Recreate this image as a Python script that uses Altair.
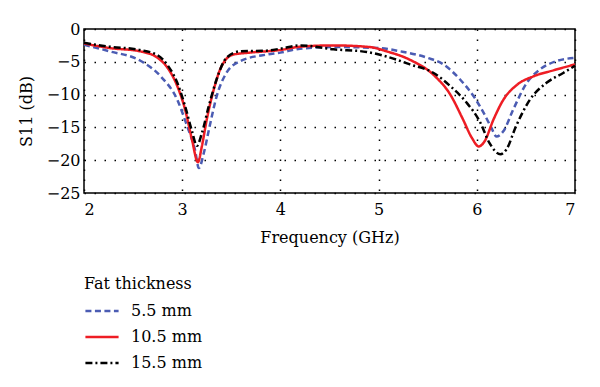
import altair as alt
import pandas as pd

# 5.5 mm (blue dashed)
f_55 = [2.0, 2.26, 2.57, 2.78, 2.95, 3.05, 3.13, 3.17, 3.22, 3.28, 3.35, 3.45, 3.59, 3.86, 4.0, 4.2,
        4.54, 5.0, 5.22, 5.5, 5.66, 5.83, 5.97, 6.07, 6.15, 6.2, 6.27, 6.37, 6.51, 6.64, 6.81, 7.0]
s_55 = [-2.4, -3.4, -4.8, -7.2, -10.8, -14.8, -18.4, -21.2, -18.9, -14.8, -10.3, -6.7, -4.9, -3.9, -3.6, -3.0,
        -2.75, -2.9, -3.4, -4.4, -5.4, -7.7, -10.3, -12.8, -15.1, -16.4, -15.6, -12.3, -8.2, -6.2, -4.9, -4.4]

# 10.5 mm (red solid)
f_105 = [2.0, 2.26, 2.57, 2.75, 2.85, 2.95, 3.03, 3.1, 3.16, 3.2, 3.25, 3.32, 3.4, 3.52, 3.69, 4.0, 4.2,
         4.54, 4.91, 5.08, 5.32, 5.56, 5.73, 5.86, 5.95, 6.02, 6.08, 6.17, 6.27, 6.41, 6.58, 6.78, 7.0]
s_105 = [-2.2, -2.9, -3.4, -4.4, -5.9, -8.7, -12.3, -16.9, -20.3, -17.9, -13.8, -9.3, -5.7, -3.9, -3.6, -3.2, -2.7,
         -2.5, -2.75, -3.4, -4.7, -7.0, -10.0, -13.8, -16.6, -17.9, -17.1, -13.8, -10.8, -8.5, -7.2, -6.3, -5.4]

# 15.5 mm (black dash-dot)
f_155 = [2.0, 2.26, 2.57, 2.75, 2.85, 2.95, 3.03, 3.1, 3.15, 3.2, 3.27, 3.35, 3.45, 3.59, 3.86, 4.0, 4.2,
         4.54, 4.88, 5.08, 5.32, 5.56, 5.73, 5.9, 6.03, 6.13, 6.24, 6.3, 6.4, 6.54, 6.71, 6.88, 7.0]
s_155 = [-2.1, -2.7, -3.2, -4.0, -5.5, -8.2, -11.8, -15.6, -17.8, -15.9, -11.8, -7.7, -4.4, -3.4, -3.3, -3.0, -2.5,
         -3.1, -3.5, -4.2, -5.4, -6.7, -8.7, -11.3, -14.1, -17.4, -19.1, -18.4, -14.8, -10.8, -8.2, -6.7, -5.6]

series = ["5.5 mm", "10.5 mm", "15.5 mm"]
colors = ["#4b5cb3", "#ee1d24", "#000000"]
dashes = [[6, 3.5], [1, 0], [7, 3, 2, 3]]

rows = []
for name, fs, ss in zip(series, [f_55, f_105, f_155], [s_55, s_105, s_155]):
    for f, s in zip(fs, ss):
        rows.append({"freq": f, "s11": s, "series": name})
df = pd.DataFrame(rows)

FONT = "DejaVu Serif"
FS = 16

chart = alt.Chart(df).mark_line(strokeWidth=2.5, interpolate="monotone").encode(
    x=alt.X("freq:Q", title="Frequency (GHz)",
            scale=alt.Scale(domain=[2, 7], nice=False),
            axis=alt.Axis(values=[2, 3, 4, 5, 6, 7], format="d")),
    y=alt.Y("s11:Q", title="S11 (dB)",
            scale=alt.Scale(domain=[-25, 0], nice=False),
            axis=alt.Axis(values=[0, -5, -10, -15, -20, -25], format="d")),
    color=alt.Color("series:N", sort=series,
                    scale=alt.Scale(domain=series, range=colors),
                    legend=alt.Legend(title="Fat thickness", orient="none",
                                      legendX=0, legendY=247, symbolType="stroke",
                                      symbolSize=1100, symbolStrokeWidth=2.5,
                                      labelFont=FONT, labelFontSize=FS, titleFont=FONT,
                                      titleFontSize=FS, titleFontWeight="normal",
                                      labelOffset=11, rowPadding=-9, padding=0,
                                      titlePadding=1, labelColor="black", titleColor="black")),
    strokeDash=alt.StrokeDash("series:N", sort=series,
                              scale=alt.Scale(domain=series, range=dashes),
                              legend=None),
    order=alt.Order("freq:Q"),
).properties(
    width=491, height=164,
    autosize=alt.AutoSizeParams(type="none"),
    padding={"left": 76, "top": 21, "right": 10, "bottom": 180},
).configure_view(
    stroke="black", strokeWidth=1.5
).configure_axis(
    labelFont=FONT, titleFont=FONT, labelFontSize=FS, titleFontSize=FS,
    titleFontWeight="normal", labelColor="black", titleColor="black",
    domain=False, ticks=False,
    grid=True, gridColor="black", gridDash=[1.5, 8.5], gridWidth=1.5, gridOpacity=1,
).configure_axisX(
    labelPadding=8, titlePadding=12
).configure_axisY(
    labelPadding=4, titlePadding=12
)

chart.save("out.html", embed_options={"renderer": "svg", "actions": False})
